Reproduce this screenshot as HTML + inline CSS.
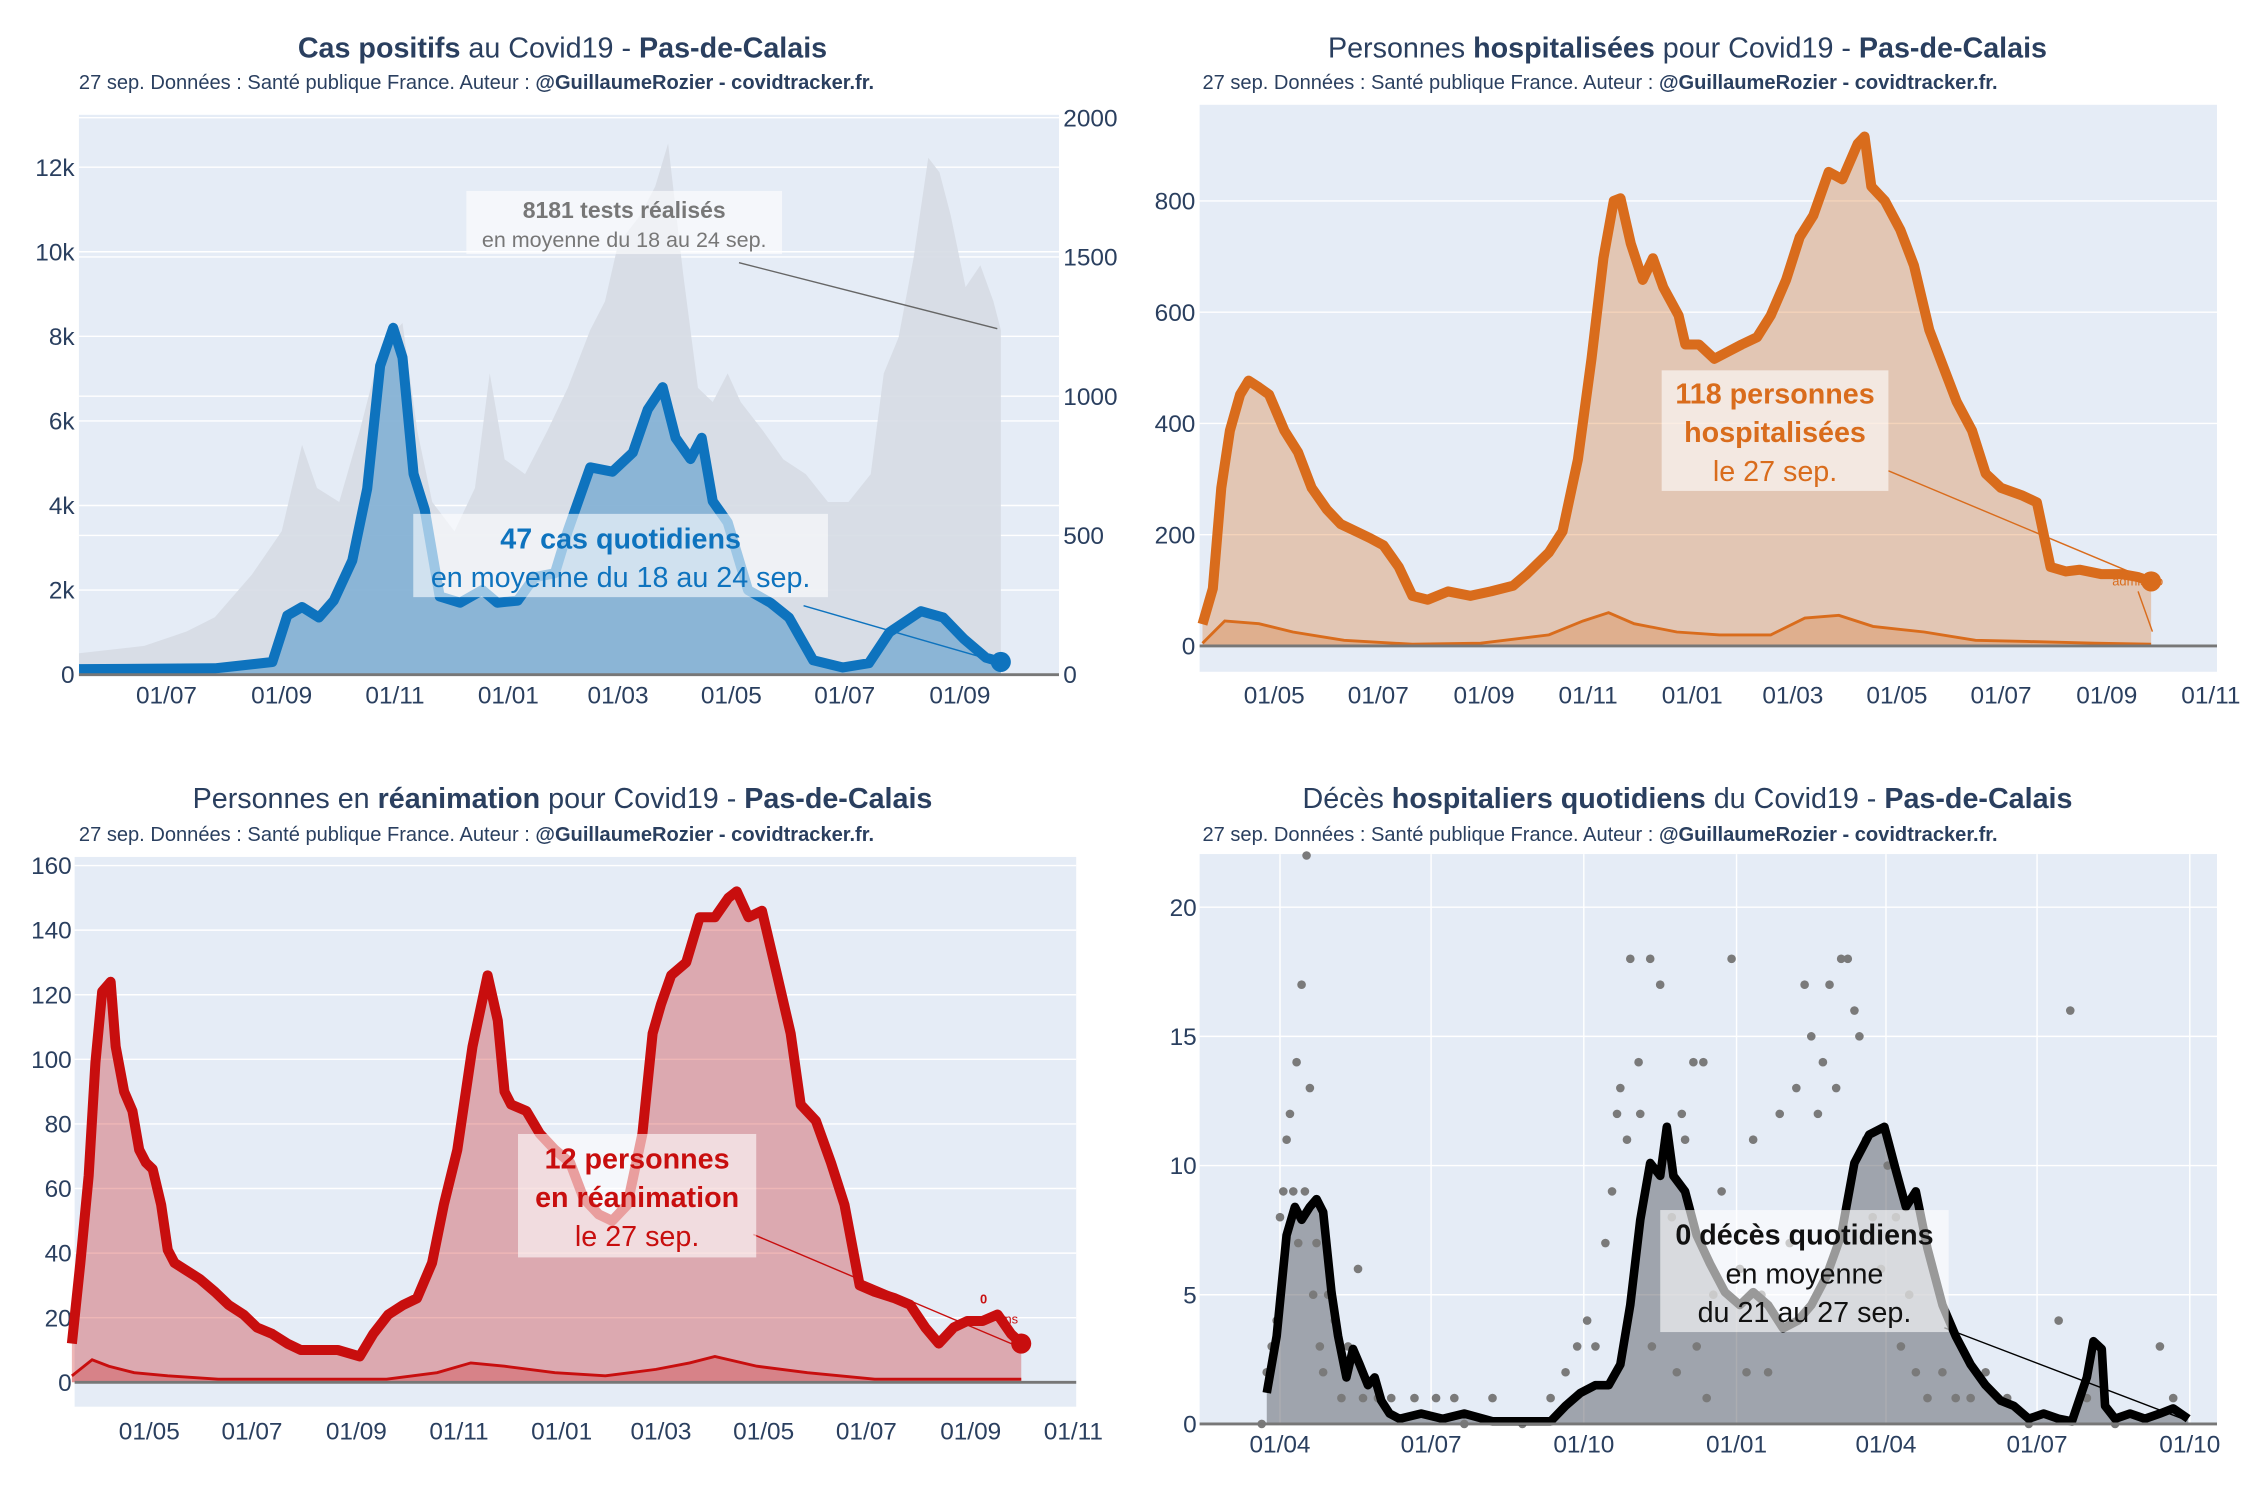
<!DOCTYPE html>
<html><head><meta charset="utf-8">
<style>
html,body{margin:0;padding:0;background:#fff;}
svg{display:block;font-family:"Liberation Sans",sans-serif;}
</style></head>
<body>
<svg id="root" width="2250" height="1500" viewBox="0 0 1568 1045" preserveAspectRatio="none" xmlns="http://www.w3.org/2000/svg"></svg>
<script>
// ---------- DATA (day offsets relative to 2020-07-01) ----------
const casesDays=[-47,26,57,65,73,82,90,100,108,115,122,127,133,139,147,158,170,178,189,198,209,216,228,240,251,259,267,274,282,288,294,302,313,325,335,348,364,378,389,406,418,429,441,449];
const casesVals=[130,150,300,1400,1600,1350,1750,2700,4400,7300,8200,7500,4750,3900,1850,1700,2000,1700,1750,2300,2400,3400,4900,4800,5250,6270,6800,5600,5100,5600,4100,3600,2000,1700,1350,340,170,270,1000,1500,1350,850,400,300];
const testsDays=[-47,-12,11,26,46,62,73,81,93,104,116,127,135,143,155,166,174,182,193,205,216,228,236,243,255,263,270,278,286,294,302,309,321,332,344,356,367,379,386,394,402,410,416,422,430,438,445,449];
const testsVals=[77,103,155,206,360,515,825,670,620,876,1186,1263,876,620,515,670,1082,773,720,876,1030,1237,1340,1546,1650,1753,1907,1443,1030,979,1082,979,876,773,720,620,620,720,1082,1211,1495,1856,1804,1650,1392,1470,1340,1237];
const casesTickDays=[0,62,123,184,243,304,365,427];
const casesTickLabels=["01/07","01/09","01/11","01/01","01/03","01/05","01/07","01/09"];
const casesYTicks=[0,2000,4000,6000,8000,10000,12000];
const casesYLabels=["0","2k","4k","6k","8k","10k","12k"];
const testsYTicks=[0,500,1000,1500,2000];

const hospDays=[-103,-97,-92,-87,-81,-76,-70,-64,-55,-47,-39,-30,-22,-13,-5,3,12,20,29,41,54,66,79,87,100,108,117,125,132,138,142,148,155,161,167,176,180,188,197,205,213,222,230,239,247,255,264,272,281,285,289,297,306,314,323,331,339,348,356,365,377,386,394,403,411,424,436,445,453];
const hospVals=[39,103,284,387,452,477,465,452,387,348,284,245,219,206,194,181,142,90,83,98,90,98,108,129,168,206,335,516,697,800,805,723,658,697,645,594,542,542,516,529,542,555,594,658,735,774,852,839,903,916,826,800,748,684,568,503,439,387,310,284,271,258,142,134,137,129,129,124,116];
const hospAdmDays=[-103,-90,-70,-50,-20,20,60,100,120,135,150,175,200,230,250,270,290,320,350,380,420,453];
const hospAdmVals=[5,45,40,25,10,3,5,20,45,60,40,25,20,20,50,55,35,25,10,8,5,3];
const hospTickDays=[-61,0,62,123,184,243,304,365,427,488];
const hospTickLabels=["01/05","01/07","01/09","01/11","01/01","01/03","01/05","01/07","01/09","01/11"];
const hospYTicks=[0,200,400,600,800];

const reaDays=[-107,-102,-97,-93,-89,-84,-81,-76,-71,-67,-63,-59,-54,-50,-46,-40,-31,-22,-14,-5,3,12,21,29,38,51,64,72,81,90,98,107,114,122,131,140,146,150,154,163,171,180,189,197,206,214,223,232,238,243,249,258,266,275,283,288,295,303,312,320,326,335,344,352,361,370,382,391,400,408,417,425,434,443,451,457];
const reaVals=[12,37,64,99,121,124,104,90,84,72,68,66,55,41,37,35,32,28,24,21,17,15,12,10,10,10,8,15,21,24,26,37,55,72,104,126,112,90,86,84,77,72,68,57,52,50,55,77,108,117,126,130,144,144,150,152,144,146,126,108,86,81,68,55,30,28,26,24,17,12,17,19,19,21,15,12];
const reaAdmDays=[-107,-95,-85,-70,-50,-20,30,80,110,130,150,180,210,240,260,275,300,330,370,420,457];
const reaAdmVals=[2,7,5,3,2,1,1,1,3,6,5,3,2,4,6,8,5,3,1,1,1];
const reaYTicks=[0,20,40,60,80,100,120,140,160];

const decesDays=[-99,-93,-87,-82,-78,-73,-69,-65,-60,-56,-51,-47,-43,-38,-34,-30,-25,-19,-6,7,20,37,55,72,81,90,99,107,114,120,126,132,138,142,146,153,160,168,177,186,194,203,212,221,229,238,247,255,264,273,280,286,292,299,308,316,325,334,343,351,360,369,378,386,395,399,404,406,412,421,430,439,447,456];
const decesVals=[1.2,3.4,7.3,8.4,7.9,8.4,8.7,8.2,5.1,3.4,1.8,2.9,2.3,1.5,1.8,0.9,0.4,0.2,0.4,0.2,0.4,0.1,0.1,0.1,0.7,1.2,1.5,1.5,2.3,4.6,7.9,10.1,9.6,11.5,9.6,9.0,7.3,6.2,5.1,4.6,5.1,4.6,3.7,4.0,4.6,5.7,7.3,10.1,11.2,11.5,9.8,8.4,9.0,6.8,4.6,3.4,2.3,1.5,0.9,0.7,0.2,0.4,0.2,0.1,1.8,3.2,2.9,0.7,0.2,0.4,0.2,0.4,0.6,0.2];
const dotDays=[-102,-99,-96,-93,-91,-89,-87,-85,-83,-81,-80,-78,-76,-75,-73,-71,-69,-67,-65,-62,-58,-54,-50,-44,-41,-32,-24,-10,3,14,20,37,55,72,81,88,94,99,105,109,112,114,118,120,125,126,132,133,138,141,145,148,151,153,158,160,164,166,170,175,181,186,190,194,199,203,210,216,220,225,229,233,236,240,244,247,251,255,258,262,266,271,275,280,283,288,292,299,308,316,325,334,347,360,378,385,395,412,439,447];
const dotVals=[0,2,3,4,8,9,11,12,9,14,7,17,9,22,13,5,7,3,2,5,4,1,3,6,1,1,1,1,1,1,0,1,0,1,2,3,4,3,7,9,12,13,11,18,14,12,18,3,17,11,8,2,12,11,14,3,14,1,5,9,18,6,2,11,5,2,12,7,13,17,15,12,14,17,13,18,18,16,15,11,8,6,10,8,3,5,2,1,2,1,1,2,1,0,4,16,1,0,3,1];
const decesTickDays=[-91,0,92,184,274,365,457];
const decesTickLabels=["01/04","01/07","01/10","01/01","01/04","01/07","01/10"];
const decesYTicks=[0,5,10,15,20];

// ---------- HELPERS ----------
const NS="http://www.w3.org/2000/svg";
const root=document.getElementById('root');
function mk(tag,attrs,parent){const e=document.createElementNS(NS,tag);for(const k in attrs)e.setAttribute(k,attrs[k]);(parent||root).appendChild(e);return e;}
function group(name,parent){const g=mk('g',{},parent);


return g;}
function txt(parent,x,y,parts,opts){const t=mk('text',{x:x,y:y,'font-size':opts.size,fill:opts.fill||'#2a3f5f','text-anchor':opts.anchor||'start'},parent);


parts.forEach(p=>{const s=mk('tspan',{},t);if(p[1])s.setAttribute('font-weight','bold');s.textContent=p[0];});return t;}
function linePath(days,vals,X,Y){return days.map((d,i)=>(i?'L':'M')+X(d).toFixed(1)+','+Y(vals[i]).toFixed(1)).join(' ');}
function areaPath(days,vals,X,Y){return linePath(days,vals,X,Y)+' L'+X(days[days.length-1]).toFixed(1)+','+Y(0)+' L'+X(days[0]).toFixed(1)+','+Y(0)+' Z';}
function panelBase(g,px,py,pw,ph){const r=mk('rect',{x:px,y:py,width:pw,height:ph,fill:'#e5ecf6'},g);

}
function yGrid(g,ticks,labels,Y,px,pw,lx,anchor){ticks.forEach((v,i)=>{
 if(v!==0){const l=mk('line',{x1:px,x2:px+pw,y1:Y(v),y2:Y(v),stroke:'#fff','stroke-width':1},g);
 
 }
 txt(g,lx,Y(v)+6,[[labels?labels[i]:String(v)]],{size:17,anchor:anchor||'end',name:'y-tick-label'});});}
function xTicks(g,days,labels,X,ty){days.forEach((d,i)=>{txt(g,X(d),ty,[[labels[i]]],{size:17,anchor:'middle',name:'x-tick-label'});});}
function annot(g,bx,by,bw,bh,lines,color,name){const a=group(name,g);
const r=mk('rect',{x:bx,y:by,width:bw,height:bh,fill:'#fff','fill-opacity':0.6},a);


lines.forEach(L=>txt(a,bx+bw/2,L[1],[[L[0],L[2]]],{size:L[3],anchor:'middle',fill:color,name:'annotation-text'}));return a;}
function connector(g,x1,y1,x2,y2,c){const l=mk('line',{x1:x1,y1:y1,x2:x2,y2:y2,stroke:c,'stroke-width':1},g);

}

// ---------- PANEL 1: CAS ----------
(function(){const g=group('cases-chart');
const px=55,py=80,pw=683,ph=390;
const X=d=>116+1.295*d, Y=v=>470-v*0.02946, Y2=v=>470-v*0.194;
panelBase(g,px,py,pw,ph);
yGrid(g,casesYTicks,casesYLabels,Y,px,pw,52,'end');
testsYTicks.forEach(v=>{txt(g,741,Y2(v)+6,[[String(v)]],{size:17,anchor:'start',name:'right-y-tick-label'});
 const l=mk('line',{x1:px,x2:px+pw,y1:Y2(v),y2:Y2(v),stroke:'#fff','stroke-width':1},g);
 
 });
const ta=mk('path',{d:areaPath(testsDays,testsVals,X,Y2),fill:'#d6dbe4','fill-opacity':0.9},g);


const ca=mk('path',{d:areaPath(casesDays,casesVals,X,Y),fill:'rgba(14,115,190,0.38)'},g);


const cl=mk('path',{d:linePath(casesDays,casesVals,X,Y),fill:'none',stroke:'#0e73be','stroke-width':7,'stroke-linejoin':'round'},g);


const n=casesDays.length-1;
const dot=mk('circle',{cx:X(casesDays[n]),cy:Y(casesVals[n]),r:7,fill:'#0e73be'},g);


const ax=mk('line',{x1:px,x2:px+pw,y1:470,y2:470,stroke:'#777','stroke-width':2},g);


xTicks(g,casesTickDays,casesTickLabels,X,490);
txt(g,392,40,[["Cas positifs",1],[" au Covid19 - "],["Pas-de-Calais",1]],{size:20,anchor:'middle',name:'cases-title'});
txt(g,55,62,[["27 sep. Données : Santé publique France. Auteur : "],["@GuillaumeRozier - covidtracker.fr.",1]],{size:14,name:'cases-subtitle'});
connector(g,515,183,695,229,'#666');
annot(g,325,133,220,44,[["8181 tests réalisés",152,1,16],["en moyenne du 18 au 24 sep.",172,0,15]],'#777','tests-annotation');
connector(g,560,422,695,461,'#0e73be');
annot(g,288,358,289,58,[["47 cas quotidiens",382,1,20],["en moyenne du 18 au 24 sep.",409,0,20]],'#0e73be','cases-annotation');
})();

// ---------- PANEL 2: HOSP ----------
(function(){const g=group('hospitalisations-chart');
const px=836,py=73,pw=709,ph=395;
const X=d=>960.5+1.189*d, Y=v=>450-v*0.3875;
panelBase(g,px,py,pw,ph);
yGrid(g,hospYTicks,null,Y,px,pw,833,'end');
const ha=mk('path',{d:areaPath(hospDays,hospVals,X,Y),fill:'rgba(217,108,28,0.3)'},g);


const aa=mk('path',{d:areaPath(hospAdmDays,hospAdmVals,X,Y),fill:'rgba(217,108,28,0.25)'},g);


const al=mk('path',{d:linePath(hospAdmDays,hospAdmVals,X,Y),fill:'none',stroke:'#d96c1c','stroke-width':2},g);


const hl=mk('path',{d:linePath(hospDays,hospVals,X,Y),fill:'none',stroke:'#d96c1c','stroke-width':7,'stroke-linejoin':'round'},g);


const n=hospDays.length-1;
const dot=mk('circle',{cx:X(hospDays[n]),cy:Y(hospVals[n]),r:7,fill:'#d96c1c'},g);


const ax=mk('line',{x1:px,x2:px+pw,y1:450,y2:450,stroke:'#777','stroke-width':2},g);


xTicks(g,hospTickDays,hospTickLabels,X,490);
txt(g,1176,40,[["Personnes "],["hospitalisées",1],[" pour Covid19 - "],["Pas-de-Calais",1]],{size:20,anchor:'middle',name:'hosp-title'});
txt(g,838,62,[["27 sep. Données : Santé publique France. Auteur : "],["@GuillaumeRozier - covidtracker.fr.",1]],{size:14,name:'hosp-subtitle'});
connector(g,1316,328,1500,405,'#d96c1c');
connector(g,1490,412,1500,440,'#d96c1c');
txt(g,1472,408,[["admissio"]],{size:9,fill:'#d96c1c',name:'admissions-label'});
annot(g,1158,258,158,84,[["118 personnes",281,1,20],["hospitalisées",308,1,20],["le 27 sep.",335,0,20]],'#d96c1c','hosp-annotation');
})();

// ---------- PANEL 3: REA ----------
(function(){const g=group('reanimation-chart');
const px=52,py=597,pw=698,ph=383;
const X=d=>175.6+1.173*d, Y=v=>963-v*2.25;
panelBase(g,px,py,pw,ph);
yGrid(g,reaYTicks,null,Y,px,pw,50,'end');
const ra=mk('path',{d:areaPath(reaDays,reaVals,X,Y),fill:'rgba(200,14,14,0.3)'},g);


const aa=mk('path',{d:areaPath(reaAdmDays,reaAdmVals,X,Y),fill:'rgba(200,14,14,0.25)'},g);


const al=mk('path',{d:linePath(reaAdmDays,reaAdmVals,X,Y),fill:'none',stroke:'#c80e0e','stroke-width':2},g);


const rl=mk('path',{d:linePath(reaDays,reaVals,X,Y),fill:'none',stroke:'#c80e0e','stroke-width':7,'stroke-linejoin':'round'},g);


const n=reaDays.length-1;
const dot=mk('circle',{cx:X(reaDays[n]),cy:Y(reaVals[n]),r:7,fill:'#c80e0e'},g);


const ax=mk('line',{x1:px,x2:px+pw,y1:963,y2:963,stroke:'#777','stroke-width':2},g);


xTicks(g,hospTickDays,hospTickLabels,X,1003);
txt(g,392,563,[["Personnes en "],["réanimation",1],[" pour Covid19 - "],["Pas-de-Calais",1]],{size:20,anchor:'middle',name:'rea-title'});
txt(g,55,586,[["27 sep. Données : Santé publique France. Auteur : "],["@GuillaumeRozier - covidtracker.fr.",1]],{size:14,name:'rea-subtitle'});
connector(g,525,860,707,937,'#c80e0e');
txt(g,683,908,[["0",1]],{size:9,fill:'#c80e0e',name:'rea-admissions-value'});
txt(g,700,922,[["ns"]],{size:9,fill:'#c80e0e',name:'rea-admissions-label'});
annot(g,361,790,166,86,[["12 personnes",814,1,20],["en réanimation",841,1,20],["le 27 sep.",868,0,20]],'#c80e0e','rea-annotation');
})();

// ---------- PANEL 4: DECES ----------
(function(){const g=group('deaths-chart');
const px=836,py=595,pw=709,ph=398;
const X=d=>997.3+1.157*d, Y=v=>992-v*18;
panelBase(g,px,py,pw,ph);
decesTickDays.forEach(d=>{const l=mk('line',{x1:X(d),x2:X(d),y1:py,y2:py+ph,stroke:'#fff','stroke-width':1},g);

});
yGrid(g,decesYTicks,null,Y,px,pw,834,'end');
const da=mk('path',{d:areaPath(decesDays,decesVals,X,Y),fill:'rgba(90,92,100,0.5)'},g);


dotDays.forEach((d,i)=>{const c=mk('circle',{cx:X(d),cy:Y(dotVals[i]),r:3,fill:'#7a7a7a'},g);

});
const dl=mk('path',{d:linePath(decesDays,decesVals,X,Y),fill:'none',stroke:'#000','stroke-width':6,'stroke-linejoin':'round'},g);


const ax=mk('line',{x1:px,x2:px+pw,y1:992,y2:992,stroke:'#777','stroke-width':2},g);


xTicks(g,decesTickDays,decesTickLabels,X,1012);
txt(g,1176,563,[["Décès "],["hospitaliers quotidiens",1],[" du Covid19 - "],["Pas-de-Calais",1]],{size:20,anchor:'middle',name:'deaths-title'});
txt(g,838,586,[["27 sep. Données : Santé publique France. Auteur : "],["@GuillaumeRozier - covidtracker.fr.",1]],{size:14,name:'deaths-subtitle'});
connector(g,1355,925,1520,988,'#000');
annot(g,1157,843,201,85,[["0 décès quotidiens",867,1,20],["en moyenne",894,0,20],["du 21 au 27 sep.",921,0,20]],'#111','deaths-annotation');
})();
</script>
</body></html>
